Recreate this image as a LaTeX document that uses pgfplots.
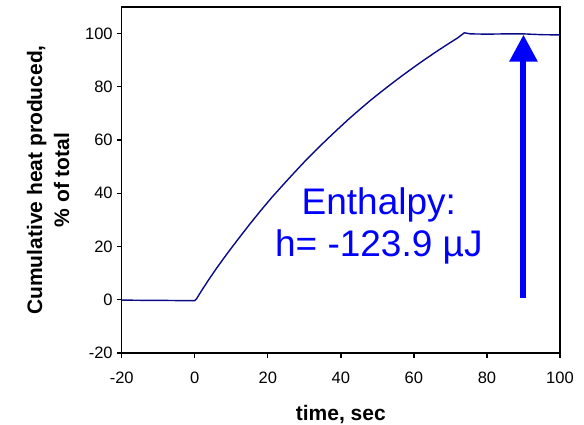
\documentclass[border=0pt]{standalone}
\usepackage{pgfplots}
\pgfplotsset{compat=1.18}
\usepackage{fontspec}
\setmainfont{Liberation Sans}
\usetikzlibrary{arrows.meta}
\definecolor{curve}{RGB}{10,10,135}
\begin{document}
\begin{tikzpicture}
\begin{axis}[
  at={(0,0)}, anchor=south west,
  scale only axis,
  width=438.3pt, height=346pt,
  xmin=-20, xmax=100, ymin=-20, ymax=110,
  xtick={-20,0,20,40,60,80,100},
  ytick={-20,0,20,40,60,80,100},
  xtick pos=bottom, ytick pos=left,
  tick align=outside,
  major tick length=4.5pt,
  axis line style={line width=1.5pt},
  every tick/.style={line width=1.3pt, black},
  /pgf/number format/assume math mode=true,
  tick label style={font=\fontsize{16.5}{18}\selectfont},
  xticklabel style={yshift=-11pt},
  yticklabel style={xshift=-1pt},
  xlabel={time, sec},
  xlabel style={font=\bfseries\fontsize{21}{24}\selectfont, at={(axis description cs:0.5,-0.194)}, anchor=base},
  ylabel={Cumulative heat produced,\\\% of total},
  ylabel style={font=\bfseries\fontsize{21}{27}\selectfont, align=center, at={(axis description cs:-0.168,0.5)}, anchor=center},
  clip=false,
]
\addplot[curve, line width=1.4pt] coordinates {
(-20,-0.1) (-15,-0.2) (-10,-0.2) (-5,-0.3) (0,-0.3) (0.5,0.4) (1,1.5) (2,3.7) (4,7.9) (6,11.9) (8,15.7) (10,19.4) (12,23.0) (15,28.3) (18,33.4) (21,38.3) (24,42.9) (27,47.4) (30,51.8) (33,56.0) (36,60.0) (39,63.9) (42,67.7) (45,71.3) (48,74.8) (51,78.1) (54,81.3) (57,84.4) (60,87.4) (63,90.3) (66,93.1) (69,95.8) (72,98.4) (73.8,100.3) (75.5,99.9) (80,99.8) (85,99.9) (90,99.9) (95,99.6) (100,99.5)
};
\addplot[blue, line width=6pt, -{Triangle[width=27pt,length=27pt]}] coordinates {(90,0.7) (90,99.6)};
\node[blue, font=\fontsize{37}{42}\selectfont, anchor=base] at (axis cs:50.4,31.9) {Enthalpy:};
\node[blue, font=\fontsize{37}{42}\selectfont, anchor=base] at (axis cs:50.4,16.1) {h= -123.9 µJ};
\end{axis}
\pgfresetboundingbox
\useasboundingbox (-121.7pt,-71pt) rectangle (462.3pt,353pt);
\end{tikzpicture}
\end{document}
